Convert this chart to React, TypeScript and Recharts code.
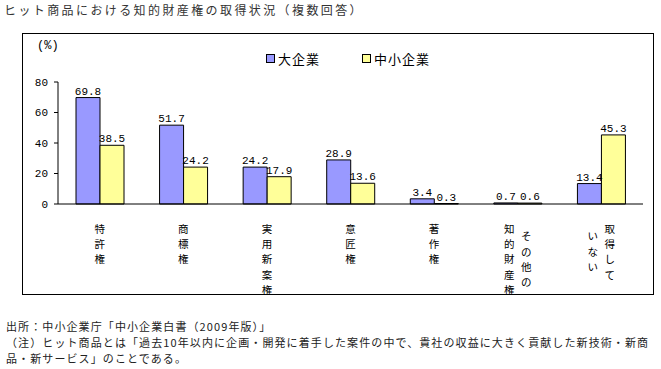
import React from 'react';
import { BarChart, Bar, XAxis, YAxis, LabelList, Legend } from 'recharts';

const categories = ['特許権', '商標権', '実用新案権', '意匠権', '著作権', 'その他の\n知的財産権', '取得して\nいない'];
const largeValues = [69.8, 51.7, 24.2, 28.9, 3.4, 0.7, 13.4];
const smeValues = [38.5, 24.2, 17.9, 13.6, 0.3, 0.6, 45.3];
const yTicks = [0, 20, 40, 60, 80];
const seriesNames = ['大企業', '中小企業'];
const colors = ['#9999FF', '#FFFF99'];

const data = categories.map((c, i) => ({ name: c, large: largeValues[i], sme: smeValues[i] }));

const jpFont = '"Noto Sans CJK JP", "Noto Sans", sans-serif';
const numFont = '"Liberation Mono", "DejaVu Sans Mono", monospace';

const CategoryTick = (props: any) => {
  const { x, y, payload } = props;
  const cols: string[] = String(payload.value).split('\n');
  const step = 15.3;
  const colGap = 17;
  const maxLen = Math.max(...cols.map((c) => c.length));
  const n = cols.length;
  const out: any[] = [];
  cols.forEach((col, ci) => {
    // first column is rightmost (vertical writing)
    const cx = x + ((n - 1) / 2 - ci) * colGap;
    const off = ((maxLen - col.length) * step) / 2;
    Array.from(col).forEach((ch, k) => {
      out.push(
        <text
          key={ci + '-' + k}
          x={cx}
          y={y + 18 + off + k * step}
          textAnchor="middle"
          dominantBaseline="middle"
          fontSize={10.5}
          fontFamily={jpFont}
          fill="#000"
        >
          {ch}
        </text>
      );
    });
  });
  return <g>{out}</g>;
};

const LegendContent = () => (
  <div style={{ display: 'flex', fontFamily: jpFont, fontSize: 13, color: '#000' }}>
    {seriesNames.map((s, i) => (
      <div key={s} style={{ display: 'flex', alignItems: 'center', marginRight: i === 0 ? 42 : 0 }}>
        <span
          style={{
            display: 'inline-block',
            width: 7,
            height: 7,
            border: '1px solid #000',
            background: colors[i],
            marginRight: 3,
          }}
        />
        <span style={{ letterSpacing: 1 }}>{s}</span>
      </div>
    ))}
  </div>
);

export default function App() {
  return (
    <div style={{ position: 'absolute', left: 0, top: 0, width: 661, height: 369, background: '#fff', overflow: 'hidden' }}>
      <div
        style={{
          position: 'absolute',
          left: 4,
          top: 1,
          fontFamily: jpFont,
          fontSize: 12,
          letterSpacing: 2.4,
          color: '#333',
          whiteSpace: 'nowrap',
        }}
      >
        ヒット商品における知的財産権の取得状況（複数回答）
      </div>
      <div
        style={{
          position: 'absolute',
          left: 22,
          top: 33,
          width: 630,
          height: 260,
          border: '1px solid #000',
        }}
      />
      <div
        style={{
          position: 'absolute',
          left: 37,
          top: 39,
          fontFamily: numFont,
          fontSize: 12,
          color: '#000',
          whiteSpace: 'nowrap',
        }}
      >
        (%)
      </div>
      <div style={{ position: 'absolute', left: 0, top: 0 }}>
        <BarChart
          width={661}
          height={369}
          data={data}
          margin={{ top: 63, right: 18, bottom: 105, left: 18 }}
          barGap={0}
          barSize={24}
        >
          <XAxis
            dataKey="name"
            interval={0}
            height={60}
            tickLine={false}
            axisLine={{ stroke: '#000' }}
            tick={<CategoryTick />}
          />
          <YAxis
            width={40}
            domain={[0, 80]}
            ticks={yTicks}
            tickSize={4}
            tickMargin={6}
            axisLine={{ stroke: '#000' }}
            tickLine={{ stroke: '#000' }}
            tick={{ fontFamily: numFont, fontSize: 11, fill: '#000' }}
          />
          <Legend
            verticalAlign="top"
            align="left"
            content={<LegendContent />}
            wrapperStyle={{ position: 'absolute', left: 266, top: 49, width: 200 }}
          />
          <Bar dataKey="large" name={seriesNames[0]} fill={colors[0]} stroke="#000" strokeWidth={1} isAnimationActive={false}>
            <LabelList
              dataKey="large"
              position="top"
              offset={3}
              formatter={(v: any) => Number(v).toFixed(1)}
              style={{ fontFamily: numFont, fontSize: 11, fill: '#000' }}
            />
          </Bar>
          <Bar dataKey="sme" name={seriesNames[1]} fill={colors[1]} stroke="#000" strokeWidth={1} isAnimationActive={false}>
            <LabelList
              dataKey="sme"
              position="top"
              offset={3}
              formatter={(v: any) => Number(v).toFixed(1)}
              style={{ fontFamily: numFont, fontSize: 11, fill: '#000' }}
            />
          </Bar>
        </BarChart>
      </div>
      <div
        style={{
          position: 'absolute',
          left: 6,
          top: 318,
          fontFamily: jpFont,
          fontSize: 11,
          lineHeight: '16px',
          letterSpacing: 1.1,
          color: '#222',
          whiteSpace: 'nowrap',
        }}
      >
        <div>出所：中小企業庁「中小企業白書（2009年版）」</div>
        <div>（注）ヒット商品とは「過去10年以内に企画・開発に着手した案件の中で、貴社の収益に大きく貢献した新技術・新商</div>
        <div>品・新サービス」のことである。</div>
      </div>
    </div>
  );
}
